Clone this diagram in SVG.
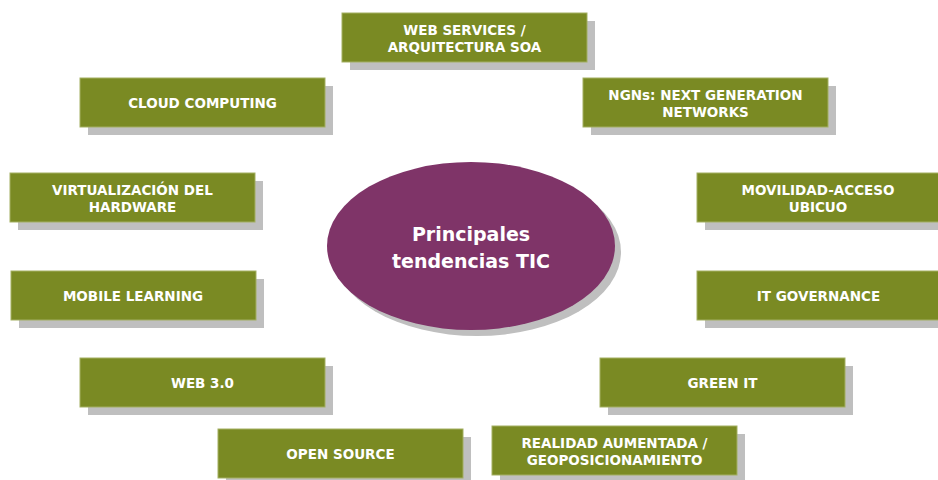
<svg xmlns="http://www.w3.org/2000/svg" width="938" height="480" viewBox="0 0 938 480">
<defs>
<style>
.sh{fill:#bfbfbf}
.bx{fill:#7a8a23;stroke:#a3af63;stroke-width:1}
.t{font-family:"DejaVu Sans","Liberation Sans",sans-serif;font-weight:bold;font-size:13.5px;fill:#ffffff;text-anchor:middle}
.c{font-family:"DejaVu Sans","Liberation Sans",sans-serif;font-weight:bold;font-size:19px;fill:#ffffff;text-anchor:middle}
</style>
</defs>
<rect width="938" height="480" fill="#ffffff"/>
<g id="connectors"></g>
<g id="center">
<ellipse cx="477" cy="252" rx="144" ry="84" class="sh"/>
<ellipse cx="471" cy="246" rx="144" ry="84" fill="#7f3468"/>
<text class="c" x="471" y="241">Principales</text>
<text class="c" x="471" y="268">tendencias TIC</text>
</g>
<g id="web-services">
<rect x="350" y="21" width="245" height="49" class="sh"/>
<rect x="342" y="13" width="245" height="49" class="bx"/>
<text class="t" x="464.5" y="34.5">WEB SERVICES /</text>
<text class="t" x="464.5" y="52">ARQUITECTURA SOA</text>
</g>
<g id="cloud">
<rect x="88" y="86" width="245" height="49" class="sh"/>
<rect x="80" y="78" width="245" height="49" class="bx"/>
<text class="t" x="202.5" y="107.5">CLOUD COMPUTING</text>
</g>
<g id="ngn">
<rect x="591" y="86" width="245" height="49" class="sh"/>
<rect x="583" y="78" width="245" height="49" class="bx"/>
<text class="t" x="705.5" y="99.5">NGNs: NEXT GENERATION</text>
<text class="t" x="705.5" y="117">NETWORKS</text>
</g>
<g id="virtualizacion">
<rect x="18" y="181" width="245" height="49" class="sh"/>
<rect x="10" y="173" width="245" height="49" class="bx"/>
<text class="t" x="132.5" y="195">VIRTUALIZACIÓN DEL</text>
<text class="t" x="132.5" y="212">HARDWARE</text>
</g>
<g id="movilidad">
<rect x="705" y="181" width="245" height="49" class="sh"/>
<rect x="697" y="173" width="245" height="49" class="bx"/>
<text class="t" x="818" y="195">MOVILIDAD-ACCESO</text>
<text class="t" x="818" y="212">UBICUO</text>
</g>
<g id="mobile-learning">
<rect x="19" y="279" width="245" height="49" class="sh"/>
<rect x="11" y="271" width="245" height="49" class="bx"/>
<text class="t" x="133" y="300.5">MOBILE LEARNING</text>
</g>
<g id="it-governance">
<rect x="705" y="279" width="245" height="49" class="sh"/>
<rect x="697" y="271" width="245" height="49" class="bx"/>
<text class="t" x="818.5" y="300.5">IT GOVERNANCE</text>
</g>
<g id="web30">
<rect x="88" y="366" width="245" height="49" class="sh"/>
<rect x="80" y="358" width="245" height="49" class="bx"/>
<text class="t" x="202.5" y="387.5">WEB 3.0</text>
</g>
<g id="green-it">
<rect x="608" y="366" width="245" height="49" class="sh"/>
<rect x="600" y="358" width="245" height="49" class="bx"/>
<text class="t" x="722.5" y="387.5">GREEN IT</text>
</g>
<g id="open-source">
<rect x="226" y="437" width="245" height="49" class="sh"/>
<rect x="218" y="429" width="245" height="49" class="bx"/>
<text class="t" x="340.5" y="458.5">OPEN SOURCE</text>
</g>
<g id="realidad">
<rect x="500" y="434" width="245" height="49" class="sh"/>
<rect x="492" y="426" width="245" height="49" class="bx"/>
<text class="t" x="614.5" y="447.5">REALIDAD AUMENTADA /</text>
<text class="t" x="614.5" y="465">GEOPOSICIONAMIENTO</text>
</g>
</svg>
